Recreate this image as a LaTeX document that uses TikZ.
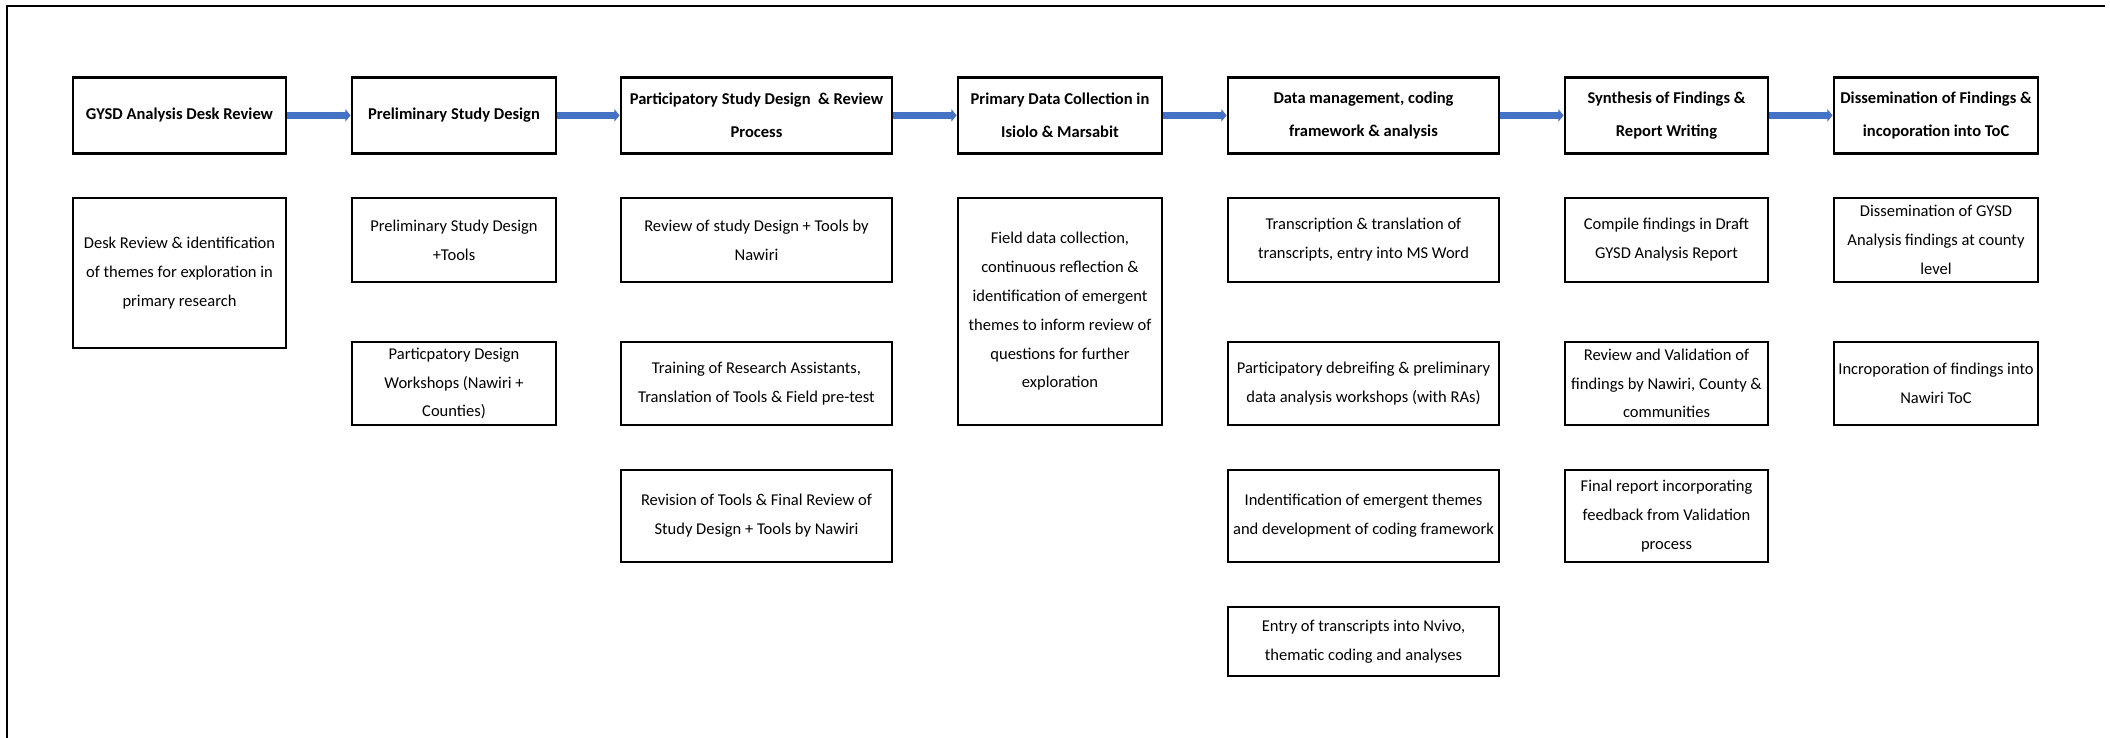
\documentclass[tikz,border=0pt]{standalone}
\usepackage{fontspec}
\setmainfont{Carlito}
\usetikzlibrary{arrows.meta, positioning}
\definecolor{flowblue}{HTML}{4472C4}

\begin{document}
\begin{tikzpicture}[
    stage/.style={draw, line width=1.6pt, align=center, anchor=north, minimum height=1.52cm, inner sep=1pt, font=\fontsize{9.4}{18.7}\selectfont\bfseries},
    task/.style={draw, line width=1.1pt, align=center, anchor=north, inner sep=1pt, font=\fontsize{9.4}{16.4}\selectfont},
    flow/.style={line width=4pt, flowblue, -{Triangle[width=7pt, length=3pt]}}
]
    \useasboundingbox (0,0) rectangle (42.2,14.76);
    \draw[line width=1.4pt] (0.14,0) -- (0.14,14.64) -- (42.1,14.64);

    % stages of the study
    \node[stage, minimum width=4.26cm] (s1) at (3.59,13.24) {GYSD Analysis Desk Review};
    \node[stage, minimum width=4.08cm] (s2) at (9.08,13.24) {Preliminary Study Design};
    \node[stage, minimum width=5.42cm] (s3) at (15.13,13.24) {Participatory Study Design \ \& Review\\Process};
    \node[stage, minimum width=4.08cm] (s4) at (21.2,13.24) {Primary Data Collection in\\Isiolo \& Marsabit};
    \node[stage, minimum width=5.42cm] (s5) at (27.27,13.24) {Data management, coding\\framework \& analysis};
    \node[stage, minimum width=4.06cm] (s6) at (33.33,13.24) {Synthesis of Findings \&\\Report Writing};
    \node[stage, minimum width=4.08cm] (s7) at (38.72,13.24) {Dissemination of Findings \&\\incoporation into ToC};

    \foreach \a/\b in {s1/s2, s2/s3, s3/s4, s4/s5, s5/s6, s6/s7}
        \draw[flow] (\a) -- (\b);

    % tasks under each stage
    \node[task, minimum width=4.26cm, minimum height=3cm] (d1) at (3.59,10.82) {Desk Review \& identification\\of themes for exploration in\\primary research};

    \node[task, minimum width=4.08cm, minimum height=1.68cm] (p1) at (9.08,10.82) {Preliminary Study Design\\+Tools};
    \node[task, minimum width=4.08cm, minimum height=1.66cm] (p2) at (9.08,7.94) {Particpatory Design\\Workshops (Nawiri +\\Counties)};

    \node[task, minimum width=5.42cm, minimum height=1.68cm] (r1) at (15.13,10.82) {Review of study Design + Tools by\\Nawiri};
    \node[task, minimum width=5.42cm, minimum height=1.66cm] (r2) at (15.13,7.94) {Training of Research Assistants,\\Translation of Tools \& Field pre-test};
    \node[task, minimum width=5.42cm, minimum height=1.84cm] (r3) at (15.13,5.38) {Revision of Tools \& Final Review of\\Study Design + Tools by Nawiri};

    \node[task, minimum width=4.08cm, minimum height=4.54cm] (c1) at (21.2,10.82) {Field data collection,\\continuous reflection \&\\identification of emergent\\themes to inform review of\\questions for further\\exploration};

    \node[task, minimum width=5.42cm, minimum height=1.68cm] (m1) at (27.27,10.82) {Transcription \& translation of\\transcripts, entry into MS Word};
    \node[task, minimum width=5.42cm, minimum height=1.66cm] (m2) at (27.27,7.94) {Participatory debreifing \& preliminary\\data analysis workshops (with RAs)};
    \node[task, minimum width=5.42cm, minimum height=1.84cm] (m3) at (27.27,5.38) {Indentification of emergent themes\\and development of coding framework};
    \node[task, minimum width=5.42cm, minimum height=1.38cm] (m4) at (27.27,2.64) {Entry of transcripts into Nvivo,\\thematic coding and analyses};

    \node[task, minimum width=4.06cm, minimum height=1.68cm] (w1) at (33.33,10.82) {Compile findings in Draft\\GYSD Analysis Report};
    \node[task, minimum width=4.06cm, minimum height=1.66cm] (w2) at (33.33,7.94) {Review and Validation of\\findings by Nawiri, County \&\\communities};
    \node[task, minimum width=4.06cm, minimum height=1.84cm] (w3) at (33.33,5.38) {Final report incorporating\\feedback from Validation\\process};

    \node[task, minimum width=4.08cm, minimum height=1.68cm] (t1) at (38.72,10.82) {Dissemination of GYSD\\Analysis findings at county\\level};
    \node[task, minimum width=4.08cm, minimum height=1.66cm] (t2) at (38.72,7.94) {Incroporation of findings into\\Nawiri ToC};
\end{tikzpicture}
\end{document}
